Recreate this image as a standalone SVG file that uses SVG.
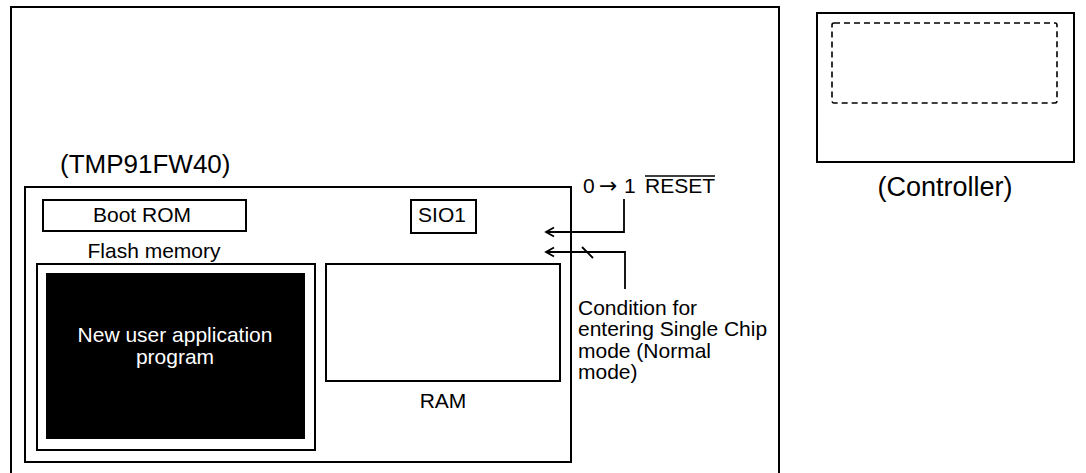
<svg xmlns="http://www.w3.org/2000/svg" width="1086" height="473" viewBox="0 0 1086 473">
<style>
  text { font-family: "Liberation Sans", Arial, sans-serif; font-size: 21px; fill: #000; }
  .box { fill: #fff; stroke: #000; stroke-width: 2; }
  .ln { fill: none; stroke: #000; stroke-width: 1.8; }
  .c { text-anchor: middle; }
  .big { font-size: 26px; }
</style>
<defs>
  <marker id="ah" markerWidth="12" markerHeight="12" refX="9" refY="6" orient="auto" markerUnits="userSpaceOnUse">
    <path d="M1,1.5 L9,6 L1,10.5" fill="none" stroke="#000" stroke-width="1.8"/>
  </marker>
</defs>
<rect width="1086" height="473" fill="#fff"/>
<g id="host">
  <rect class="box" x="11" y="7" width="768" height="480"/>
</g>
<g id="tmp">
  <text class="big" x="60" y="173">(TMP91FW40)</text>
  <rect class="box" x="25" y="187" width="546" height="275"/>
</g>
<g id="bootrom">
  <rect class="box" x="43" y="200" width="203" height="31"/>
  <text class="c" x="142" y="222">Boot ROM</text>
</g>
<g id="sio1">
  <rect class="box" x="411" y="200" width="65" height="33"/>
  <text class="c" x="442" y="222">SIO1</text>
</g>
<g id="flash">
  <text class="c" x="154" y="258">Flash memory</text>
  <rect class="box" x="37" y="264" width="278" height="186"/>
  <rect x="46" y="273" width="259" height="166" fill="#000"/>
  <text class="c" x="175" y="342" style="fill:#fff">New user application</text>
  <text class="c" x="175" y="364" style="fill:#fff">program</text>
</g>
<g id="ram">
  <rect class="box" x="326" y="264" width="234" height="117"/>
  <text class="c" x="443" y="408">RAM</text>
</g>
<g id="controller">
  <rect class="box" x="817" y="13" width="257" height="149"/>
  <rect x="832" y="23" width="225" height="80" rx="2" fill="none" stroke="#000" stroke-width="1.6" stroke-dasharray="6,4"/>
  <text class="c" x="945" y="196" style="font-size:27px">(Controller)</text>
</g>
<g id="reset-label">
  <text x="583" y="193">0 <tspan x="599" style="font-family:'DejaVu Sans',sans-serif;font-size:22px">→</tspan><tspan x="624">1</tspan><tspan x="645">RESET</tspan></text>
  <line x1="645" y1="176" x2="715" y2="176" stroke="#000" stroke-width="1.4"/>
</g>
<g id="condition-label">
  <text x="578" y="315">Condition for</text>
  <text x="578" y="336">entering Single Chip</text>
  <text x="578" y="358">mode (Normal</text>
  <text x="578" y="379">mode)</text>
</g>
<g id="connectors">
  <path class="ln" d="M624,199 V232 H546" marker-end="url(#ah)"/>
  <path class="ln" d="M625,289 V252 H546" marker-end="url(#ah)"/>
  <line class="ln" x1="582" y1="247" x2="593" y2="258"/>
</g>
</svg>
